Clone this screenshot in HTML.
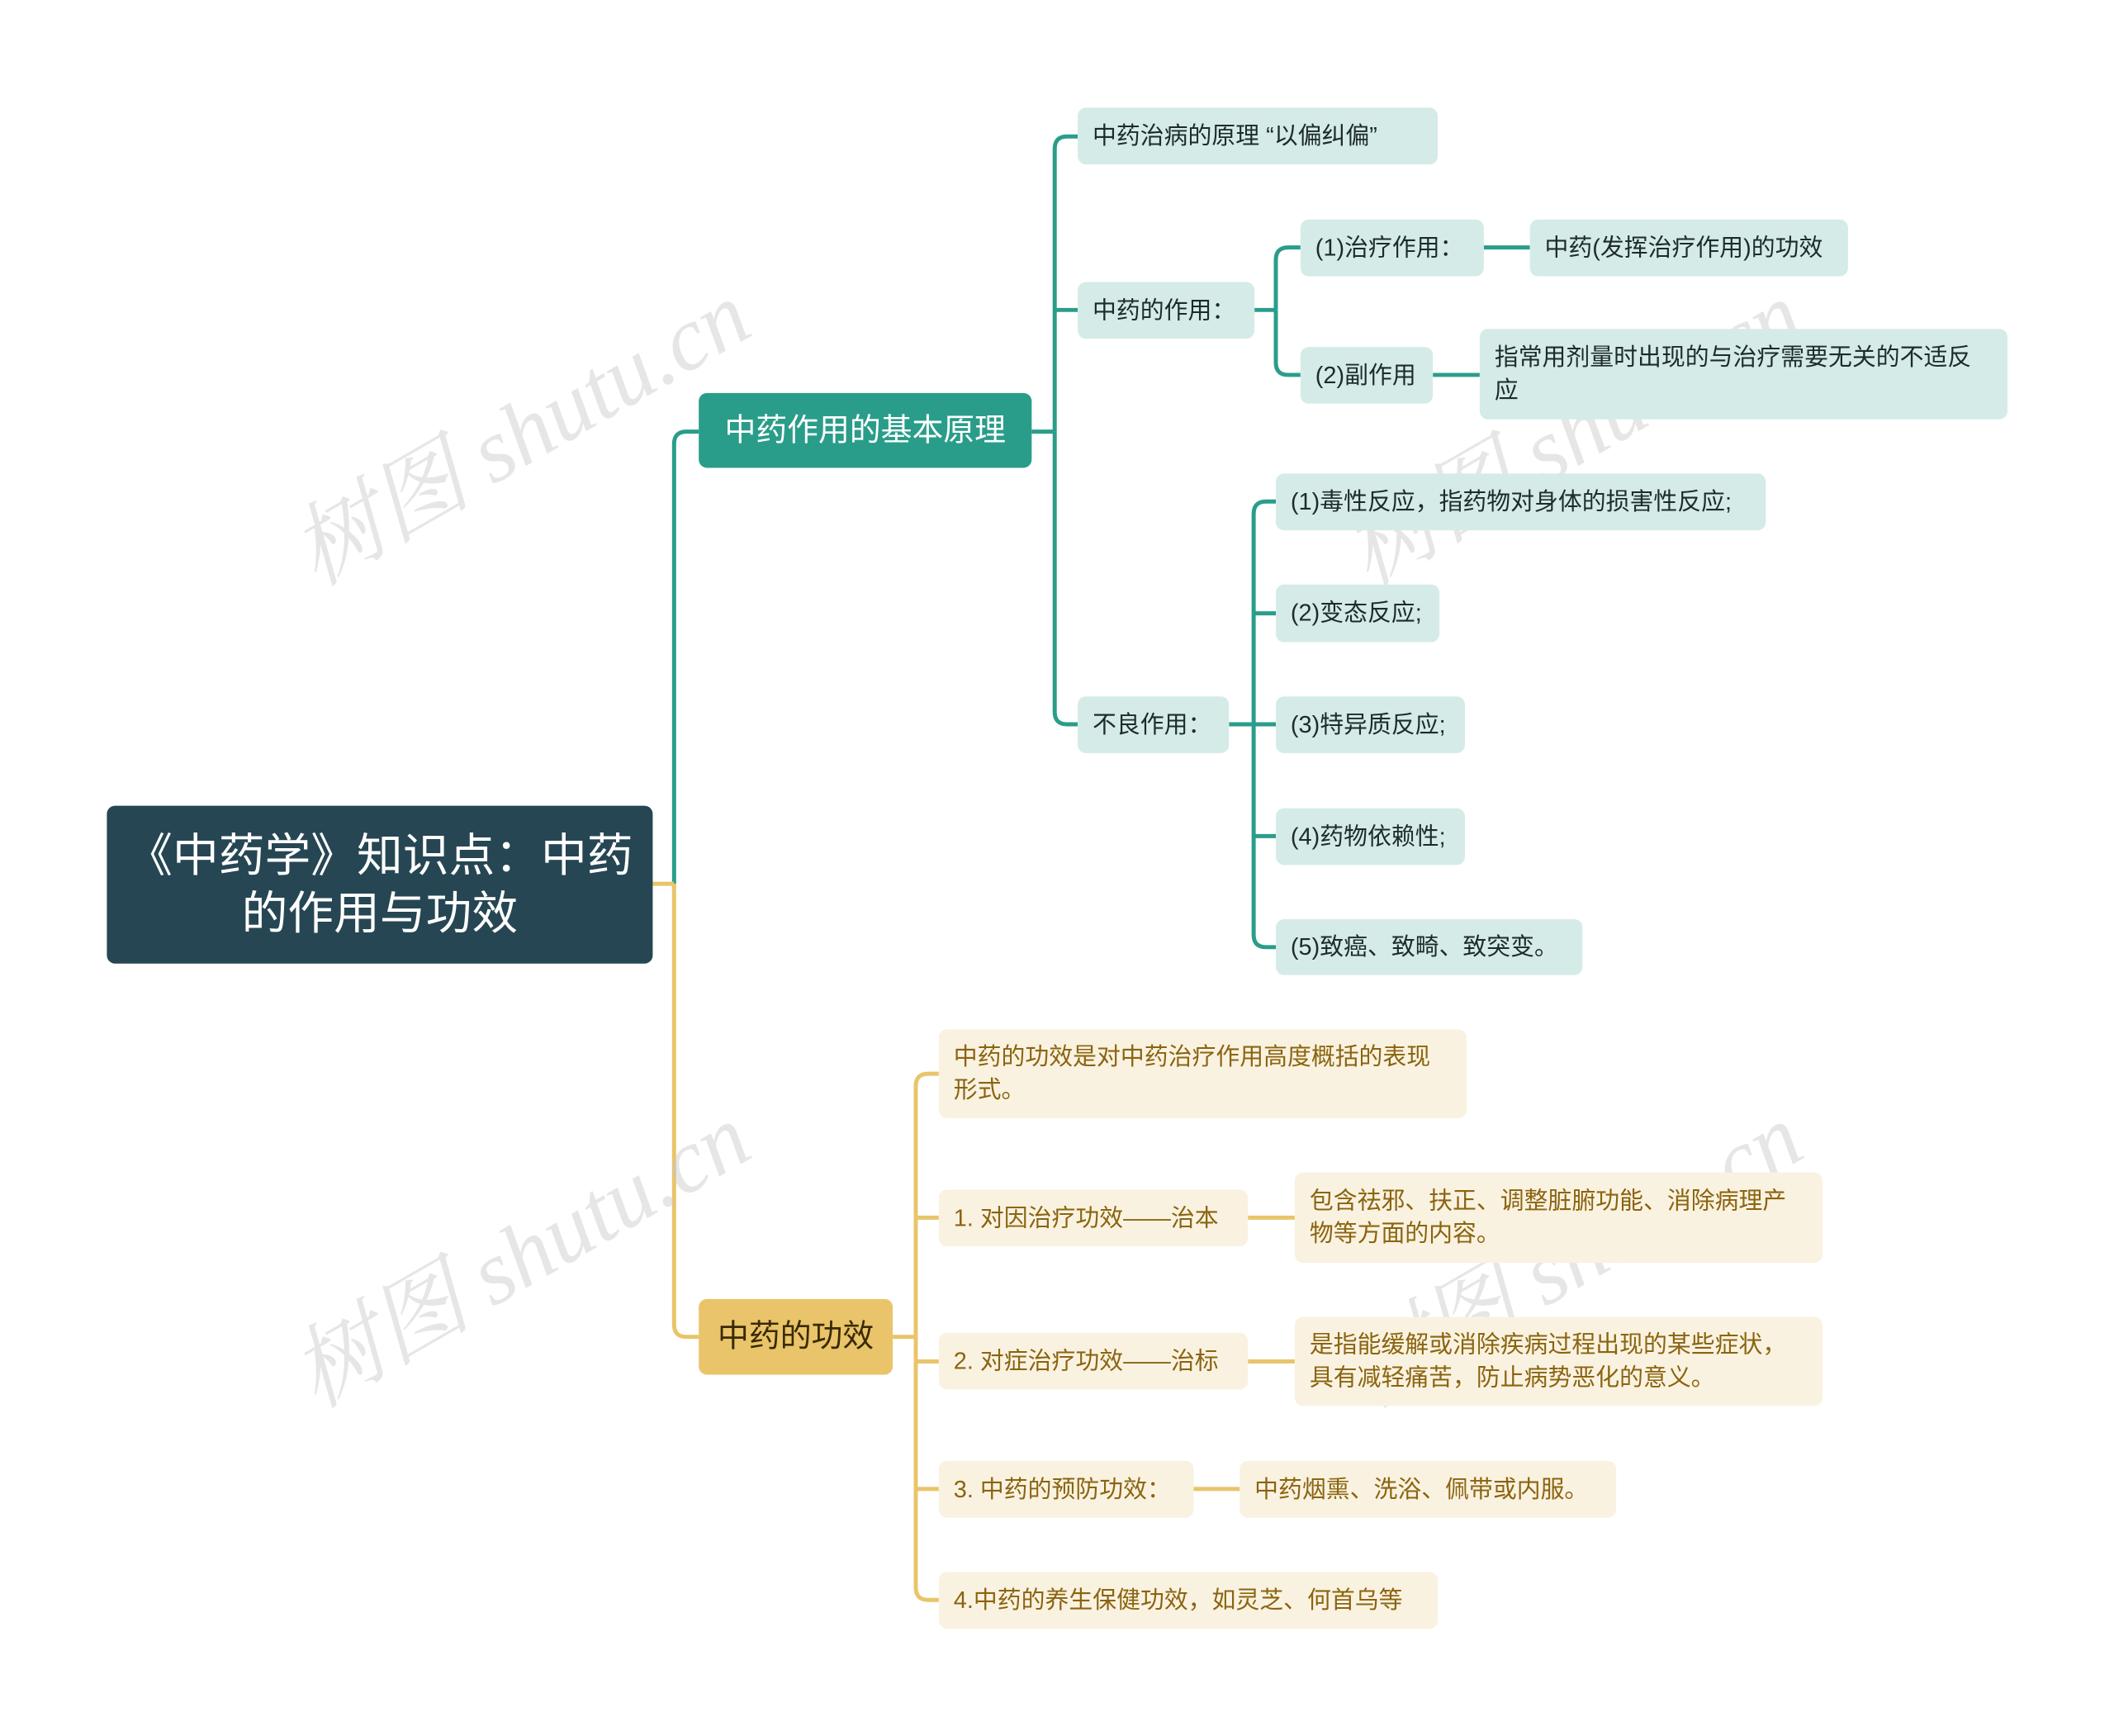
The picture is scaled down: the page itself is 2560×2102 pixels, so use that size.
<!DOCTYPE html>
<html><head><meta charset="utf-8"><style>
body{margin:0;width:2560px;height:2102px;background:#fff;position:relative;overflow:hidden;font-family:"Liberation Sans","Noto Sans CJK SC",sans-serif}
#w{position:absolute;left:0;top:0;width:2560px;height:2102px;transform:scale(0.9955);transform-origin:0 0}
.n{position:absolute;box-sizing:border-box;border-radius:10px;display:flex;align-items:center;padding:0 18px;font-size:29px;line-height:40px}
.t{background:#d5ebe8;color:#1d2b2b}
.g{background:#faf2e0;color:#8a6410}
.wm{position:absolute;font-size:110px;color:rgba(200,200,200,0.45);transform:rotate(-30deg);font-family:"Liberation Serif","Noto Serif CJK SC",serif;font-style:italic;white-space:nowrap}
</style></head><body><div id="w">
<svg width="2560" height="2102" style="position:absolute;left:0;top:0" fill="none" stroke-width="5">
<g stroke="#2a9d8a">
<path d="M1255,525 H1283"/>
<path d="M1283,525 V181 Q1283,166 1298,166 H1311"/>
<path d="M1283,525 V866 Q1283,881 1298,881 H1311"/>
<path d="M1283,377 H1311"/>
<path d="M1526,377 H1552"/>
<path d="M1552,377 V316 Q1552,301 1567,301 H1582"/>
<path d="M1552,377 V441 Q1552,456 1567,456 H1582"/>
<path d="M1805,301 H1861"/>
<path d="M1743,456 H1800"/>
<path d="M1495,881 H1525"/>
<path d="M1525,881 V625 Q1525,610 1540,610 H1552"/>
<path d="M1525,881 V1137 Q1525,1152 1540,1152 H1552"/>
<path d="M1525,746 H1552"/>
<path d="M1525,881 H1552"/>
<path d="M1525,1017 H1552"/>
<path d="M820,1075 V540 Q820,525 835,525 H850"/>
</g>
<g stroke="#e9c46a">
<path d="M794,1075 H820"/>
<path d="M820,1075 V1611 Q820,1626 835,1626 H850"/>
<path d="M1086,1626 H1114"/>
<path d="M1114,1626 V1321 Q1114,1306 1129,1306 H1142"/>
<path d="M1114,1626 V1931 Q1114,1946 1129,1946 H1142"/>
<path d="M1114,1481 H1142"/>
<path d="M1114,1656 H1142"/>
<path d="M1114,1811 H1142"/>
<path d="M1518,1481 H1575"/>
<path d="M1518,1656 H1575"/>
<path d="M1452,1811 H1508"/>
</g>
</svg>
<div class="wm" style="left:320px;top:440px">树图 shutu.cn</div>
<div class="wm" style="left:1600px;top:440px">树图 shutu.cn</div>
<div class="wm" style="left:320px;top:1440px">树图 shutu.cn</div>
<div class="wm" style="left:1600px;top:1440px">树图 shutu.cn</div>

<div class="n" style="left:130px;top:980px;width:664px;height:192px;background:#264653;color:#fff;font-size:56px;line-height:70px;justify-content:center;text-align:center">《中药学》知识点：中药<br>的作用与功效</div>
<div class="n" style="left:850px;top:478px;width:405px;height:91px;background:#2a9d8a;color:#fff;font-size:38px;justify-content:center">中药作用的基本原理</div>
<div class="n" style="left:850px;top:1580px;width:236px;height:92px;background:#e9c46a;color:#3a2a05;font-size:38px;justify-content:center">中药的功效</div>

<div class="n t" style="left:1311px;top:131px;width:438px;height:69px">中药治病的原理 “以偏纠偏”</div>
<div class="n t" style="left:1311px;top:343px;width:215px;height:69px">中药的作用：</div>
<div class="n t" style="left:1582px;top:267px;width:223px;height:69px">(1)治疗作用：</div>
<div class="n t" style="left:1861px;top:267px;width:387px;height:69px">中药(发挥治疗作用)的功效</div>
<div class="n t" style="left:1582px;top:422px;width:161px;height:69px">(2)副作用</div>
<div class="n t" style="left:1800px;top:400px;width:642px;height:110px">指常用剂量时出现的与治疗需要无关的不适反应</div>
<div class="n t" style="left:1311px;top:847px;width:184px;height:69px">不良作用：</div>
<div class="n t" style="left:1552px;top:576px;width:596px;height:69px">(1)毒性反应，指药物对身体的损害性反应;</div>
<div class="n t" style="left:1552px;top:711px;width:199px;height:70px">(2)变态反应;</div>
<div class="n t" style="left:1552px;top:847px;width:230px;height:69px">(3)特异质反应;</div>
<div class="n t" style="left:1552px;top:983px;width:230px;height:69px">(4)药物依赖性;</div>
<div class="n t" style="left:1552px;top:1118px;width:373px;height:68px">(5)致癌、致畸、致突变。</div>

<div class="n g" style="left:1142px;top:1252px;width:642px;height:108px">中药的功效是对中药治疗作用高度概括的表现形式。</div>
<div class="n g" style="left:1142px;top:1447px;width:376px;height:69px">1. 对因治疗功效——治本</div>
<div class="n g" style="left:1575px;top:1426px;width:642px;height:110px">包含祛邪、扶正、调整脏腑功能、消除病理产物等方面的内容。</div>
<div class="n g" style="left:1142px;top:1621px;width:376px;height:69px">2. 对症治疗功效——治标</div>
<div class="n g" style="left:1575px;top:1602px;width:642px;height:108px">是指能缓解或消除疾病过程出现的某些症状，具有减轻痛苦，防止病势恶化的意义。</div>
<div class="n g" style="left:1142px;top:1777px;width:310px;height:69px">3. 中药的预防功效：</div>
<div class="n g" style="left:1508px;top:1777px;width:458px;height:69px">中药烟熏、洗浴、佩带或内服。</div>
<div class="n g" style="left:1142px;top:1912px;width:607px;height:69px">4.中药的养生保健功效，如灵芝、何首乌等</div>
</div></body></html>
